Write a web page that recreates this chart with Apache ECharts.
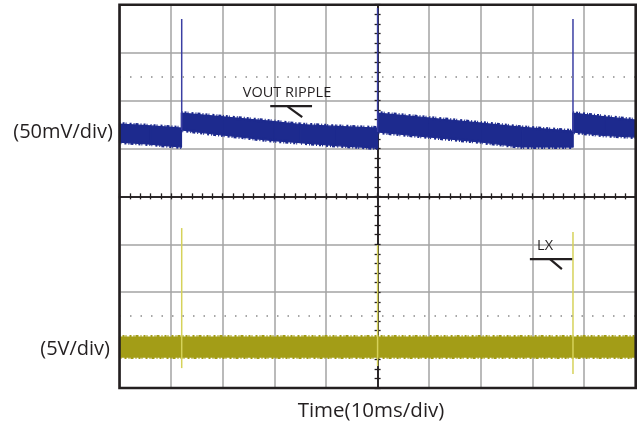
<!DOCTYPE html>
<html><head><meta charset="utf-8">
<script src="https://cdn.jsdelivr.net/npm/echarts@6/dist/echarts.min.js"></script>
<style>html,body{margin:0;padding:0;background:#fff}#c{width:637px;height:429px}</style>
</head><body><div id="c"></div>
<script>
// Time axis in ms (10 ms/div), vertical axis in screen divisions (8 div, centre = 0)
const voutT      = [-50,   -44,   -38,   -38,   -30,   -20,   -15,   -8,    0,     0,     10,    20,    28,    37.85, 37.85, 44,    50];
const voutTop    = [1.509, 1.47,  1.426, 1.739, 1.66,  1.56,  1.50,  1.46,  1.426, 1.739, 1.635, 1.53,  1.44,  1.363, 1.739, 1.66,  1.593];
const voutBottom = [1.133, 1.09,  1.029, 1.384, 1.28,  1.16,  1.12,  1.06,  1.008, 1.342, 1.238, 1.133, 1.03,  1.029, 1.342, 1.27,  1.238];
const lxT      = [-50,    0,      50];
const lxTop    = [-2.937, -2.937, -2.937];
const lxBottom = [-3.355, -3.355, -3.355];
// spikes: [time, low, high]
const voutSpikes = [[-37.95, 1.384, 3.702], [0, 1.342, 3.93], [37.85, 1.342, 3.702]];
const lxSpikes   = [[-37.95, -3.585, -0.662], [0, -3.543, -1.017], [37.85, -3.710, -0.745]];
const refLevels = [2.5, -2.5];
const annoText = [['VOUT RIPPLE', -26.1, 2.17], ['LX', 30.9, -1.029]];
const annoLines = [[-20.8, 1.884, -12.7, 1.884], [-17.4, 1.875, -14.6, 1.653],
                   [29.5, -1.309, 37.7, -1.309], [33.4, -1.309, 35.7, -1.518]];
const channelLabels = ['(50mV/div)', '(5V/div)'];
const timeLabel = 'Time(10ms/div)';

const INK = '#231f20';
const BLUE = '#1d2a8e', BLUE_SPIKE = '#3b3fa3';
const YEL = '#a39d17', YEL_SPIKE = '#d6d25a';
const NOISE_DASH = [1, 2, 2, 1, 1, 3, 2, 2, 1, 1, 3, 2];

function bandSeries(ts, tops, bots, color) {
  return {
    type: 'custom', xAxisIndex: 0, yAxisIndex: 0, z: 3,
    data: ts.map((t, i) => [t, tops[i], bots[i]]),
    encode: { x: 0, y: [1, 2] },
    renderItem: function (params, api) {
      const i = params.dataIndex;
      if (i >= ts.length - 1) return { type: 'group', children: [] };
      const a = api.coord([ts[i], tops[i]]), b = api.coord([ts[i + 1], tops[i + 1]]);
      const c = api.coord([ts[i + 1], bots[i + 1]]), d = api.coord([ts[i], bots[i]]);
      const children = [
        { type: 'polygon', shape: { points: [a, b, c, d] },
          style: { fill: color, stroke: color, lineWidth: 1.2 } }
      ];
      if (Math.abs(b[0] - a[0]) > 0.5) {
        children.push({ type: 'polyline', shape: { points: [a, b] },
          style: { stroke: color, lineWidth: 4, lineDash: NOISE_DASH, fill: null } });
        children.push({ type: 'polyline', shape: { points: [d, c] },
          style: { stroke: color, lineWidth: 4, lineDash: NOISE_DASH, lineDashOffset: 5, fill: null } });
      }
      return { type: 'group', children: children };
    }
  };
}
function spikeSeries(spikes, color) {
  return {
    type: 'custom', xAxisIndex: 0, yAxisIndex: 0, z: 4,
    data: spikes, encode: { x: 0, y: [1, 2] },
    renderItem: function (params, api) {
      const a = api.coord([api.value(0), api.value(1)]);
      const b = api.coord([api.value(0), api.value(2)]);
      return { type: 'line', shape: { x1: a[0], y1: a[1], x2: b[0], y2: b[1] },
        style: { stroke: color, lineWidth: 1.5 } };
    }
  };
}
function centerAxisX(pos, split) {
  return {
    type: 'value', min: -50, max: 50, interval: 10, position: pos,
    axisLine: { show: true, onZero: true, onZeroAxisIndex: 0, lineStyle: { color: INK, width: 1.5 } },
    axisTick: { show: true, length: 3, lineStyle: { color: INK, width: 1.3 } },
    minorTick: { show: true, splitNumber: 5, length: 3, lineStyle: { color: INK, width: 1.3 } },
    axisLabel: { show: false },
    splitLine: { show: split, lineStyle: { color: '#a3a3a3', width: 1.5 } },
    minorSplitLine: { show: false }
  };
}
function centerAxisY(pos, split) {
  return {
    type: 'value', min: -4, max: 4, interval: 1, position: pos,
    axisLine: { show: true, onZero: true, onZeroAxisIndex: 0, lineStyle: { color: INK, width: 1.5 } },
    axisTick: { show: true, length: 3, lineStyle: { color: INK, width: 1.3 } },
    minorTick: { show: true, splitNumber: 5, length: 3, lineStyle: { color: INK, width: 1.3 } },
    axisLabel: { show: false },
    splitLine: { show: split, lineStyle: { color: '#a3a3a3', width: 1.5 } },
    minorSplitLine: { show: false }
  };
}

const chart = echarts.init(document.getElementById('c'), null, { renderer: 'canvas' });
chart.setOption({
  animation: false,
  backgroundColor: '#fff',
  grid: { left: 119.5, top: 4.7, right: 1.3, bottom: 41, show: false, containLabel: false },
  xAxis: [centerAxisX('bottom', true), centerAxisX('top', false)],
  yAxis: [centerAxisY('left', true), centerAxisY('right', false)],
  series: [
    {
      type: 'line', xAxisIndex: 0, yAxisIndex: 0, symbol: 'none', z: 1, silent: true,
      data: [],
      markLine: {
        silent: true, symbol: 'none', label: { show: false },
        lineStyle: { color: '#8a8a8a', type: [1.5, 9], width: 1.5 },
        data: refLevels.map(v => ({ yAxis: v }))
      }
    },
    bandSeries(voutT, voutTop, voutBottom, BLUE),
    bandSeries(lxT, lxTop, lxBottom, YEL),
    spikeSeries(voutSpikes, BLUE_SPIKE),
    spikeSeries(lxSpikes, YEL_SPIKE),
    {
      type: 'custom', xAxisIndex: 0, yAxisIndex: 0, z: 5,
      data: annoLines, encode: { x: [0, 2], y: [1, 3] },
      renderItem: function (params, api) {
        const a = api.coord([api.value(0), api.value(1)]);
        const b = api.coord([api.value(2), api.value(3)]);
        return { type: 'line', shape: { x1: a[0], y1: a[1], x2: b[0], y2: b[1] },
          style: { stroke: INK, lineWidth: 2.2 } };
      }
    },
    {
      type: 'custom', xAxisIndex: 0, yAxisIndex: 0, z: 5,
      data: annoText.map(a => [a[1], a[2], a[0]]),
      dimensions: ['t', 'd', 'label'],
      encode: { x: 0, y: 1 },
      renderItem: function (params, api) {
        const p = api.coord([api.value(0), api.value(1)]);
        return { type: 'text', x: p[0], y: p[1],
          style: { text: annoText[params.dataIndex][0], font: '14.5px "Open Sans"', fill: INK,
                   align: 'left', verticalAlign: 'middle' } };
      }
    }
  ],
  graphic: [
    { type: 'rect', z: 100, shape: { x: 119.5, y: 4.7, width: 516.2, height: 383.3 },
      style: { fill: 'none', stroke: INK, lineWidth: 2.6 } },
    { type: 'text', z: 100, x: 113, y: 132.5,
      style: { text: channelLabels[0], font: '20px "Open Sans"', fill: INK, align: 'right', verticalAlign: 'middle' } },
    { type: 'text', z: 100, x: 110, y: 349,
      style: { text: channelLabels[1], font: '20px "Open Sans"', fill: INK, align: 'right', verticalAlign: 'middle' } },
    { type: 'text', z: 100, x: 371, y: 411,
      style: { text: timeLabel, font: '20.5px "Open Sans"', fill: INK, align: 'center', verticalAlign: 'middle' } }
  ]
});
</script>
</body></html>
